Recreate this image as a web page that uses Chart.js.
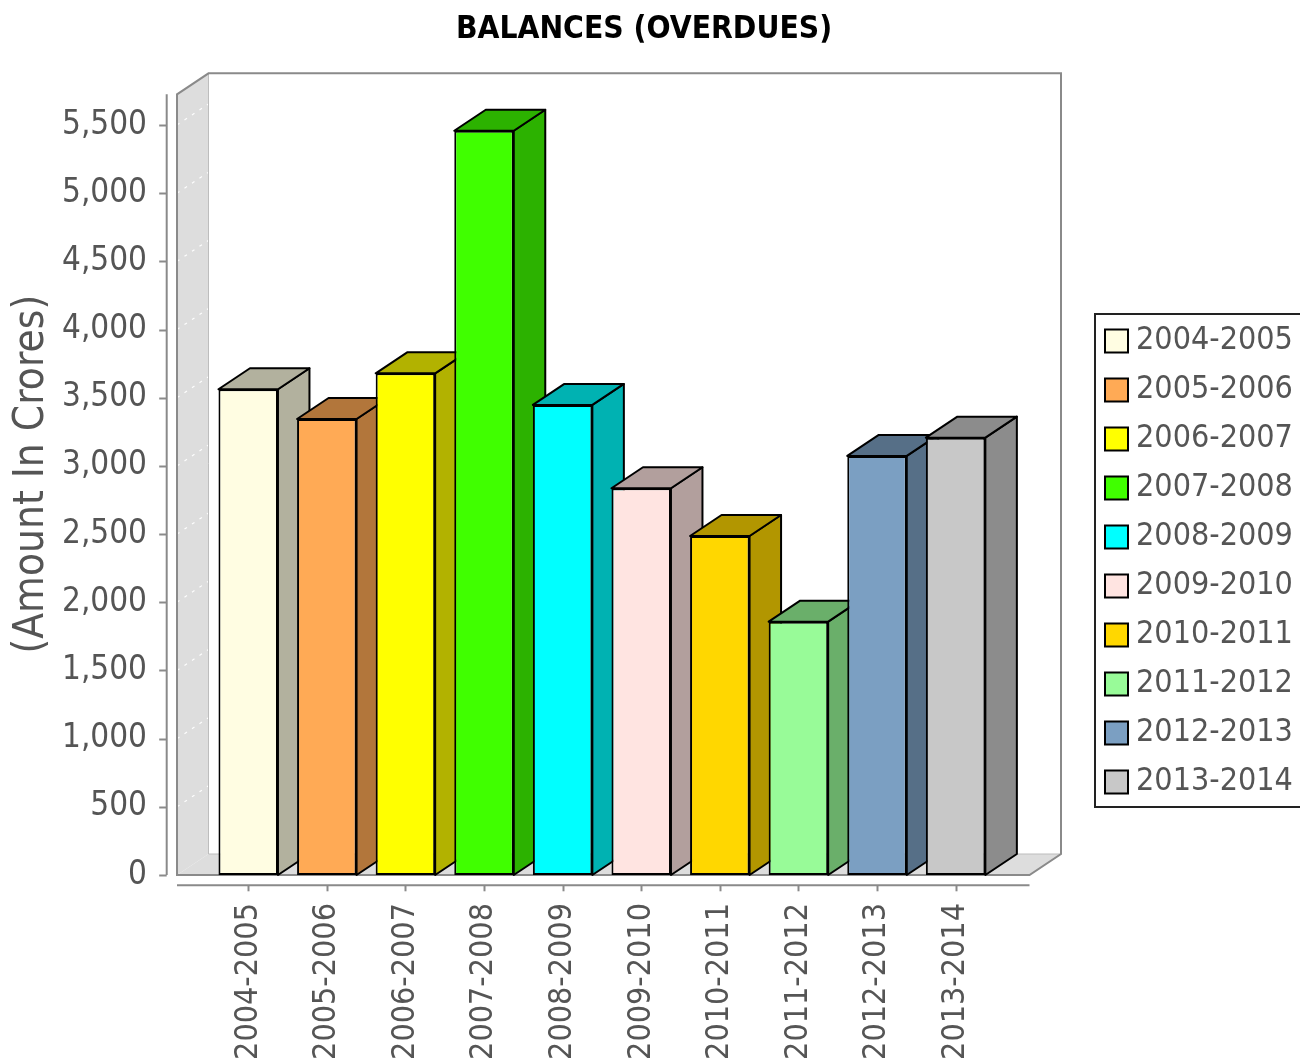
<!DOCTYPE html>
<html>
<head>
<meta charset="utf-8">
<style>
  html, body { margin: 0; padding: 0; background: #ffffff; }
  #wrap { width: 1300px; height: 1064px; }
</style>
<script src="https://cdn.jsdelivr.net/npm/chart.js@4.4.1/dist/chart.umd.min.js"></script>
</head>
<body>
<div id="wrap"><canvas id="c" width="1300" height="1064"></canvas></div>
<script>
// ---- data ----
const categories = ['2004-2005', '2005-2006', '2006-2007', '2007-2008', '2008-2009',
                    '2009-2010', '2010-2011', '2011-2012', '2012-2013', '2013-2014'];
const overdueValues = [3562, 3344, 3679, 5458, 3447, 2836, 2486, 1858, 3073, 3207];
const yTickValues = [0, 500, 1000, 1500, 2000, 2500, 3000, 3500, 4000, 4500, 5000, 5500];
const chartTitle = 'BALANCES (OVERDUES)';
const yAxisTitle = '(Amount In Crores)';

// ---- styles ----
const barColors = ['#FFFDE2', '#FFAA55', '#FFFF00', '#40FF00', '#00FFFF',
                   '#FFE4E1', '#FFD700', '#98FB98', '#7B9FC2', '#C8C8C8'];
const FONT = '"DejaVu Sans Condensed", "DejaVu Sans", sans-serif';
const TEXT = '#555555';
const DX = 31.5, DY = 21;          // 3D depth offsets
const AXIS_GAP = 10.3;             // gap between data area and axis lines

function darker(hex) {
  const n = parseInt(hex.slice(1), 16);
  const r = Math.floor(((n >> 16) & 255) * 0.7);
  const g = Math.floor(((n >> 8) & 255) * 0.7);
  const b = Math.floor((n & 255) * 0.7);
  return 'rgb(' + r + ',' + g + ',' + b + ')';
}
function poly(ctx, pts) {
  ctx.beginPath();
  ctx.moveTo(pts[0][0], pts[0][1]);
  for (let i = 1; i < pts.length; i++) ctx.lineTo(pts[i][0], pts[i][1]);
  ctx.closePath();
}

const plot3d = {
  id: 'plot3d',
  afterLayout(chart) {
    const lg = chart.legend;
    if (!lg) return;
    lg.left = 1096; lg.right = 1320; lg.width = lg.right - lg.left;
    lg.top = 293; lg.bottom = 830; lg.height = lg.bottom - lg.top;
  },
  beforeDatasetsDraw(chart) {
    const ctx = chart.ctx, a = chart.chartArea, ys = chart.scales.y;
    const L = a.left, R = a.right, T = a.top, B = a.bottom;
    ctx.save();
    // left wall and floor
    ctx.fillStyle = '#DDDDDD';
    poly(ctx, [[L, B], [L, T], [L + DX, T - DY], [L + DX, B - DY]]);
    ctx.fill();
    poly(ctx, [[L, B], [R, B], [R + DX, B - DY], [L + DX, B - DY]]);
    ctx.fill();
    // gridlines on the wall
    ctx.strokeStyle = 'rgba(255,255,255,0.95)';
    ctx.lineWidth = 1.2;
    ctx.setLineDash([3, 6]);
    ys.ticks.forEach(t => {
      if (!t.value) return;
      const y = ys.getPixelForValue(t.value);
      ctx.beginPath(); ctx.moveTo(L, y); ctx.lineTo(L + DX, y - DY); ctx.stroke();
    });
    ctx.setLineDash([]);
    // inner edges
    ctx.strokeStyle = '#bdbdbd';
    ctx.lineWidth = 1;
    ctx.beginPath(); ctx.moveTo(L + DX, T - DY); ctx.lineTo(L + DX, B - DY); ctx.lineTo(R + DX, B - DY); ctx.stroke();
    // outline
    ctx.strokeStyle = '#8a8a8a';
    ctx.lineWidth = 2;
    poly(ctx, [[L, B], [L, T], [L + DX, T - DY], [R + DX, T - DY], [R + DX, B - DY], [R, B]]);
    ctx.stroke();
    // 3D side and top faces of the bars
    const meta = chart.getDatasetMeta(0);
    ctx.lineJoin = 'round';
    meta.data.forEach((bar, i) => {
      const p = bar.getProps(['x', 'y', 'base', 'width'], true);
      const l = p.x - p.width / 2, r = p.x + p.width / 2;
      const top = Math.min(p.y, p.base), bot = Math.max(p.y, p.base);
      ctx.fillStyle = darker(barColors[i]);
      ctx.strokeStyle = '#000';
      ctx.lineWidth = 2;
      poly(ctx, [[r, bot], [r, top], [r + DX, top - DY], [r + DX, bot - DY]]);
      ctx.fill(); ctx.stroke();
      poly(ctx, [[l, top], [l + DX, top - DY], [r + DX, top - DY], [r, top]]);
      ctx.fill(); ctx.stroke();
    });
    ctx.restore();
  },
  afterDraw(chart) {
    const ctx = chart.ctx, a = chart.chartArea, xs = chart.scales.x, ys = chart.scales.y;
    const L = a.left, R = a.right, T = a.top, B = a.bottom;
    ctx.save();
    ctx.strokeStyle = '#8a8a8a';
    ctx.lineWidth = 2;
    // value axis line + ticks
    const ax = L - AXIS_GAP;
    ctx.beginPath(); ctx.moveTo(ax, T); ctx.lineTo(ax, B); ctx.stroke();
    ys.ticks.forEach(t => {
      const y = Math.round(ys.getPixelForValue(t.value)) + 0.5;
      ctx.beginPath(); ctx.moveTo(ax - 7.5, y); ctx.lineTo(ax, y); ctx.stroke();
    });
    // category axis line + ticks
    const ay = B + AXIS_GAP;
    ctx.beginPath(); ctx.moveTo(L, ay); ctx.lineTo(R, ay); ctx.stroke();
    xs.ticks.forEach(t => {
      const x = Math.round(xs.getPixelForValue(t.value)) + 0.5;
      ctx.beginPath(); ctx.moveTo(x, ay); ctx.lineTo(x, ay + 6); ctx.stroke();
    });
    // value axis title, centred on the full 3D height
    ctx.fillStyle = TEXT;
    ctx.font = '42px ' + FONT;
    ctx.textAlign = 'center';
    ctx.textBaseline = 'middle';
    ctx.translate(ys.left + 32, (T - DY + B) / 2);
    ctx.rotate(-Math.PI / 2);
    ctx.fillText(yAxisTitle, 0, 0);
    ctx.restore();
    // legend frame
    const lg = chart.legend;
    if (lg) {
      ctx.save();
      ctx.strokeStyle = '#222';
      ctx.lineWidth = 2;
      ctx.strokeRect(lg.left - 1, lg.top + 21, 400, 493);
      ctx.restore();
    }
  }
};

const ctx = document.getElementById('c').getContext('2d');
new Chart(ctx, {
  type: 'bar',
  data: {
    datasets: [{
      label: 'Overdues',
      data: categories.map((c, i) => ({ x: i, y: overdueValues[i] })),
      backgroundColor: barColors,
      borderColor: '#000',
      borderWidth: 2,
      borderSkipped: false,
      categoryPercentage: 1,
      barPercentage: 0.757,
      yAxisID: 'y'
    }]
  },
  options: {
    responsive: false,
    animation: false,
    devicePixelRatio: 1,
    layout: { padding: { left: 0, right: 12, top: 0, bottom: 0 } },
    scales: {
      x: {
        type: 'linear',
        offset: false,
        min: -0.906,
        max: 9.94,
        grid: { display: false, drawTicks: false },
        border: { display: false },
        afterBuildTicks: s => { s.ticks = categories.map((c, i) => ({ value: i })); },
        afterFit: s => { s.height = 189; },
        ticks: {
          autoSkip: false,
          minRotation: 90,
          maxRotation: 90,
          padding: 28,
          color: TEXT,
          font: { size: 32, family: FONT },
          callback: v => categories[v] !== undefined ? categories[v] : ''
        }
      },
      y: {
        type: 'linear',
        min: 0,
        max: 5725,
        grid: { display: false, drawTicks: false },
        border: { display: false },
        afterBuildTicks: s => { s.ticks = yTickValues.map(v => ({ value: v })); },
        afterFit: s => { s.width = 177; },
        ticks: {
          padding: 30,
          color: TEXT,
          font: { size: 33, family: FONT },
          callback: v => Number(v).toLocaleString('en-US')
        }
      },
      legendGap: {
        type: 'linear',
        position: 'right',
        display: true,
        grid: { display: false, drawTicks: false },
        border: { display: false },
        ticks: { display: false },
        afterFit: s => { s.width = 258.5; }
      }
    },
    plugins: {
      title: {
        display: true,
        text: chartTitle,
        color: '#000',
        font: { size: 31.5, weight: 'bold', family: FONT },
        padding: { top: 11, bottom: 45.5 }
      },
      legend: {
        display: true,
        position: 'chartArea',
        labels: {
          usePointStyle: true,
          pointStyle: 'rect',
          boxWidth: 7,
          boxHeight: 23,
          padding: 17,
          color: TEXT,
          font: { size: 32, family: FONT },
          generateLabels: () => categories.map((c, i) => ({
            text: c,
            fillStyle: barColors[i],
            strokeStyle: '#000',
            lineWidth: 2,
            pointStyle: 'rect',
            fontColor: TEXT,
            hidden: false,
            datasetIndex: 0,
            index: i
          }))
        }
      },
      tooltip: { enabled: false }
    }
  },
  plugins: [plot3d]
});
</script>
</body>
</html>
